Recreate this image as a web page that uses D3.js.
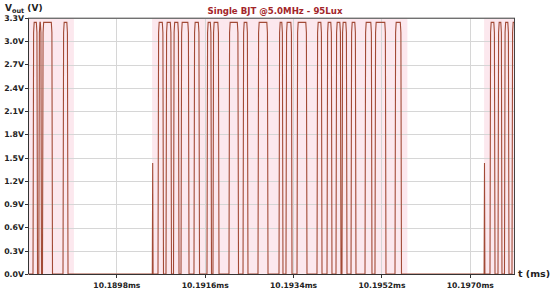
<!DOCTYPE html>
<html>
<head>
  <meta charset="utf-8">
  <title>Single BJT @5.0MHz - 95Lux</title>
  <style>
    body { margin: 0; background: #fff; }
    svg text { font-family: "DejaVu Sans", Verdana, sans-serif; font-weight: bold; }
    .axis path, .axis line { stroke: #333; shape-rendering: crispEdges; }
    .grid line { stroke: #d6d6d6; shape-rendering: crispEdges; }
  </style>
  <script src="https://d3js.org/d3.v7.min.js"></script>
</head>
<body>
  <div id="chart"></div>
  <script>
    // tick values
    var xTicks = [10.1898, 10.1916, 10.1934, 10.1952, 10.1970];
    var yTicks = [0.0, 0.3, 0.6, 0.9, 1.2, 1.5, 1.8, 2.1, 2.4, 2.7, 3.0, 3.3];

    // high periods of Vout [start, end] in ms
    var pulses = [
      [10.188102, 10.188194], [10.188220, 10.188275], [10.188295, 10.188499], [10.188713, 10.188815],
      [10.190648, 10.190760], [10.190811, 10.190923], [10.190964, 10.191076], [10.191117, 10.191280],
      [10.191381, 10.191494], [10.191646, 10.191738], [10.191768, 10.191891], [10.192094, 10.192288],
      [10.192380, 10.192481], [10.192685, 10.192889], [10.193113, 10.193194], [10.193255, 10.193378],
      [10.193480, 10.193683], [10.193887, 10.193989], [10.194091, 10.194192], [10.194274, 10.194376],
      [10.194396, 10.194498], [10.194580, 10.194681], [10.194865, 10.195007], [10.195068, 10.195292],
      [10.195476, 10.195608],
      [10.197411, 10.197513], [10.197574, 10.197655], [10.197706, 10.197798], [10.197859, 10.198022]
    ];
    var highLevel = 3.24;

    // short glitches that do not reach the high level
    var spikeTimes = [10.190540, 10.197299];
    var spikeLevel = 1.43;

    var xDomain = [10.1880, 10.1979];

    var margin = {top: 17.7, right: 36, bottom: 17, left: 28},
        width = 550 - margin.left - margin.right,
        height = 291 - margin.top - margin.bottom;

    var svg = d3.select("#chart").append("svg")
        .attr("width", 550)
        .attr("height", 291);

    var g = svg.append("g")
        .attr("transform", "translate(" + margin.left + "," + margin.top + ")");

    var x = d3.scaleLinear().domain(xDomain).range([0, width]);
    var y = d3.scaleLinear().domain([0, 3.3]).range([height, 0]);

    g.append("clipPath").attr("id", "clip")
      .append("rect").attr("width", width).attr("height", height + 1);

    // pink halo behind the switching activity
    var pad = 0.00012;
    g.append("g").attr("clip-path", "url(#clip)")
      .selectAll("rect").data(pulses).join("rect")
        .attr("x", function(d) { return x(d[0] - pad); })
        .attr("width", function(d) { return x(d[1] + pad) - x(d[0] - pad); })
        .attr("y", 0)
        .attr("height", height)
        .attr("fill", "#fce8ee");

    // grid
    g.append("g").attr("class", "grid")
      .selectAll("line.h").data(yTicks).join("line")
        .attr("x1", 0).attr("x2", width)
        .attr("y1", function(d) { return Math.round(y(d)) + 0.5; })
        .attr("y2", function(d) { return Math.round(y(d)) + 0.5; });
    g.append("g").attr("class", "grid")
      .selectAll("line.v").data(xTicks).join("line")
        .attr("y1", 0).attr("y2", height)
        .attr("x1", function(d) { return Math.round(x(d)) + 0.5; })
        .attr("x2", function(d) { return Math.round(x(d)) + 0.5; });

    // build trace points from the pulse list
    var rise = 0.000012;
    var pts = [[xDomain[0], 0]];
    var events = pulses.map(function(p) { return {t: p[0], p: p}; })
      .concat(spikeTimes.map(function(t) { return {t: t, s: true}; }))
      .sort(function(a, b) { return a.t - b.t; });
    events.forEach(function(e) {
      if (e.s) {
        pts.push([e.t - 0.000008, 0], [e.t, spikeLevel], [e.t + 0.000008, 0]);
      } else {
        var a = e.p[0], b = e.p[1];
        pts.push([a, 0], [a + rise, highLevel * 0.96], [a + rise * 2, highLevel],
                 [b - rise * 2, highLevel], [b - rise, highLevel * 0.96], [b, 0]);
      }
    });
    pts.push([xDomain[1] + 0.0002, 0]);

    var line = d3.line()
      .x(function(d) { return x(d[0]); })
      .y(function(d) { return y(d[1]); });

    g.append("path")
      .datum(pts)
      .attr("clip-path", "url(#clip)")
      .attr("fill", "none")
      .attr("stroke", "#a24a36")
      .attr("stroke-width", 1.1)
      .attr("d", line);

    // axes
    g.append("g")
      .attr("class", "axis")
      .attr("transform", "translate(0," + height + ")")
      .call(d3.axisBottom(x).tickValues(xTicks).tickSize(4).tickSizeOuter(0)
        .tickFormat(function(d) { return d.toFixed(4) + "ms"; }))
      .call(function(s) { s.selectAll("text").attr("font-size", 7.6).attr("fill", "#222").attr("dy", "0.9em"); });

    g.append("g")
      .attr("class", "axis")
      .call(d3.axisLeft(y).tickValues(yTicks).tickSize(3).tickSizeOuter(0).tickPadding(1)
        .tickFormat(function(d) { return d.toFixed(1) + "V"; }))
      .call(function(s) { s.selectAll("text").attr("font-size", 7.8).attr("fill", "#222"); });

    // top and right frame
    g.append("line").attr("x1", 0).attr("x2", width).attr("y1", 0.5).attr("y2", 0.5)
      .attr("stroke", "#444");
    g.append("line").attr("x1", width + 0.5).attr("x2", width + 0.5).attr("y1", 0).attr("y2", height)
      .attr("stroke", "#444");

    // labels
    var yl = svg.append("text").attr("x", 5).attr("y", 11).attr("font-size", 9).attr("fill", "#222");
    yl.append("tspan").text("V");
    yl.append("tspan").attr("font-size", 6.5).attr("dy", 2).text("out");
    yl.append("tspan").attr("dy", -2).text(" (V)");

    svg.append("text")
      .attr("x", 275).attr("y", 14)
      .attr("text-anchor", "middle")
      .attr("font-size", 8.6)
      .attr("fill", "#a3262a")
      .text("Single BJT @5.0MHz - 95Lux");

    svg.append("text")
      .attr("x", 518).attr("y", 277)
      .attr("font-size", 9.5)
      .attr("fill", "#222")
      .text("t (ms)");
  </script>
</body>
</html>
